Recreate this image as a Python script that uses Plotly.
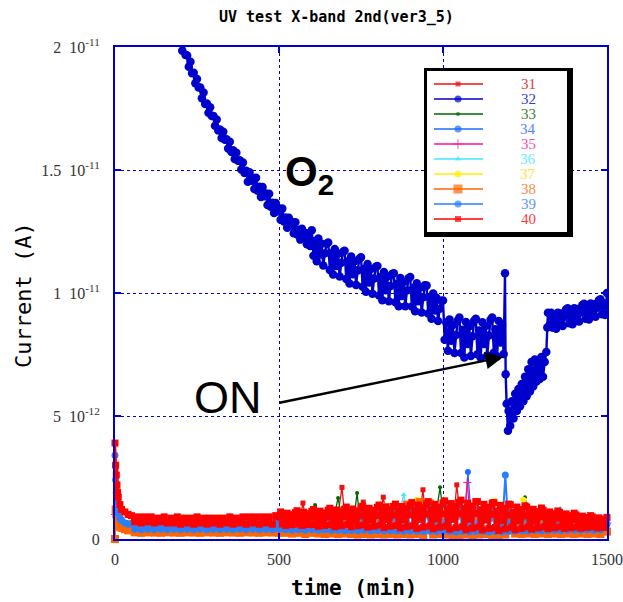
import plotly.graph_objects as go

PA = 1e-12  # all series values below are in pA

NAMES = ["31", "32", "33", "34", "35", "36", "37", "38", "39", "40"]
LINE_COLORS = ["#ee1111", "#0000cc", "#006600", "#1e6eff", "#ff1493",
               "#40e8ff", "#ffee00", "#ff6600", "#2a7fff", "#ff0000"]
TEXT_COLORS = ["#e03a3a", "#3a3acc", "#3d7a3d", "#4f86ff", "#ff4aa0",
               "#66eeff", "#f5e53a", "#ff8a4a", "#5a98ff", "#ff3a3a"]
SYMBOLS = ["square", "circle", "circle", "circle", "cross-thin",
           "triangle-up", "circle", "square", "circle", "square"]
MSIZES = [5, 8.5, 4, 6, 6, 5, 6, 8, 7, 7]
LWIDTHS = [1.3, 2.4, 1.3, 1.3, 1.3, 1.3, 1.3, 1.8, 2.0, 2.2]
LEG_MSIZES = [5, 7, 4, 7, 7, 6, 7, 9, 7, 6]

# ---- series 32 (O2) ----
T32 = list(range(190, 600, 5)) + list(range(600, 1186, 5)) + [1189, 1191, 1194, 1198] + \
    list(range(1200, 1316, 5)) + [1318, 1320, 1325] + list(range(1330, 1501, 5))
V32 = [20.75, 20.26, 20.25, 19.85, 20.05, 19.68, 19.65, 19.20, 19.40, 18.93,  # 190-235
       18.95, 18.53, 18.70, 18.35, 18.35, 17.92, 18.15, 17.68, 17.70, 17.33,  # 240-285
       17.55, 17.20, 17.20, 16.80, 17.05, 16.61, 16.65, 16.30, 16.55, 16.23,  # 290-335
       16.25, 15.87, 16.15, 15.73, 15.80, 15.45, 15.70, 15.38, 15.40, 15.02,  # 340-385
       15.30, 14.88, 14.97, 14.52, 14.91, 14.56, 14.69, 14.23, 14.68, 14.16,  # 390-435
       14.32, 13.90, 14.31, 13.93, 14.04, 13.58, 14.03, 13.51, 13.67, 13.25,  # 440-485
       13.66, 13.31, 13.44, 12.98, 13.43, 12.91, 13.07, 12.65, 13.06, 12.73,  # 490-535
       12.89, 12.43, 12.88, 12.38, 12.57, 12.17, 12.61, 12.28, 12.44, 11.98,  # 540-585
       12.43, 11.91,                                                          # 590-595
       12.55, 11.51, 12.11, 11.29, 12.22, 11.56, 12.00, 11.12, 11.62, 12.00,  # 600-645
       12.05, 10.94, 11.62, 10.75, 11.79, 11.10, 11.60, 10.67, 11.23, 11.68,  # 650-695
       11.72, 10.57, 11.29, 10.39, 11.48, 10.76, 11.29, 10.33, 10.92, 11.39,  # 700-745
       11.45, 10.25, 10.99, 10.05, 11.18, 10.43, 10.98, 9.97, 10.59, 11.07,   # 750-795
       11.10, 9.90, 10.65, 9.71, 10.85, 10.11, 10.66, 9.66, 10.28, 10.77,     # 800-845
       10.80, 9.62, 10.38, 9.46, 10.61, 9.88, 10.45, 9.46, 10.10, 10.60,      # 850-895
       10.65, 9.45, 10.20, 9.26, 10.40, 9.66, 10.21, 9.21, 9.83, 10.32,       # 900-945
       10.30, 9.17, 9.84, 8.95, 9.98, 9.29, 9.81, 8.86, 9.36, 9.69,           # 950-995
       9.70, 8.10, 8.80, 7.65, 8.92, 8.06, 8.70, 7.56, 8.29, 8.88,            # 1000-1045
       9.00, 7.56, 8.51, 7.38, 8.82, 7.93, 8.65, 7.44, 8.24, 8.87,            # 1050-1095
       8.95, 7.51, 8.48, 7.36, 8.81, 7.93, 8.66, 7.46, 8.27, 8.91,            # 1100-1145
       9.00, 7.57, 8.53, 7.42, 8.86, 7.99, 8.71, 7.52,                        # 1150-1185
       10.8, 6.7, 5.5, 4.4,                                                   # 1189-1198
       5.2, 4.6, 5.6, 4.9, 5.9, 5.2, 6.1, 5.4, 6.3, 5.6,                      # 1200-1245
       6.6, 5.8, 6.9, 6.0, 7.2, 6.2, 7.3, 6.4, 7.1, 6.5,                      # 1250-1295
       7.4, 6.6, 7.2, 7.6,                                                    # 1300-1315
       8.6, 9.2, 8.7,                                                         # 1318-1325
       9.20, 8.59, 9.03, 8.55, 9.20, 8.84, 9.17, 8.66, 9.03, 9.33,            # 1330-1375
       9.38, 8.77, 9.20, 8.73, 9.38, 9.02, 9.35, 8.84, 9.21, 9.51,            # 1380-1425
       9.56, 8.95, 9.39, 8.92, 9.57, 9.20, 9.54, 9.03, 9.40, 9.70,            # 1430-1475
       9.75, 9.14, 9.58, 9.11, 10.0]                                          # 1480-1500

# ---- dense bottom series ----
T_EARLY = [0, 2, 4, 6, 8, 10, 15, 20, 30, 40]
T_C = T_EARLY + list(range(50, 1501, 10))
T40 = T_EARLY + list(range(50, 500, 10)) + list(range(500, 1501, 5))
V40 = [3.9, 3.0, 2.6, 2.2, 1.9, 1.7, 1.4, 1.2, 1.1, 1.0,
       0.95, 0.70, 0.90, 0.65, 0.90, 0.70, 0.90, 0.65, 0.85, 0.70,     # 50-140
       0.90, 0.65, 0.85, 0.65, 0.90, 0.60, 0.85, 0.65, 0.85, 0.60,     # 150-240
       0.90, 0.65, 0.85, 0.60, 0.85, 0.65, 0.85, 0.60, 0.85, 0.65,     # 250-340
       0.90, 0.60, 0.85, 0.65, 0.90, 0.60, 0.90, 0.65, 0.90, 0.60,     # 350-440
       0.90, 0.65, 0.90, 0.60, 0.95,                                   # 450-490
       0.90,                                                           # 500
       1.10, 0.61, 0.94, 0.55, 1.05, 0.74, 0.99, 0.58, 0.85, 1.07,     # 505-550
       1.15, 0.61, 0.97, 0.55, 1.09, 0.76, 1.03, 0.58, 0.88, 1.12,     # 555-600
       1.20, 0.59, 1.00, 0.52, 1.13, 0.76, 1.06, 0.55, 0.89, 1.17,     # 605-650
       1.25, 0.58, 1.03, 0.50, 1.18, 0.76, 1.10, 0.54, 0.91, 1.21,     # 655-700
       1.30, 0.58, 1.06, 0.50, 1.22, 0.78, 1.14, 0.54, 0.94, 1.26,     # 705-750
       1.33, 0.57, 1.08, 0.48, 1.25, 0.78, 1.16, 0.52, 0.95, 1.29,     # 755-800
       1.38, 0.56, 1.11, 0.47, 1.29, 0.79, 1.20, 0.52, 0.97, 1.33,     # 805-850
       1.42, 0.55, 1.13, 0.45, 1.32, 0.79, 1.23, 0.50, 0.98, 1.37,     # 855-900
       1.48, 0.54, 1.17, 0.43, 1.38, 0.80, 1.27, 0.48, 1.01, 1.43,     # 905-950
       1.52, 0.53, 1.19, 0.42, 1.41, 0.81, 1.30, 0.48, 1.03, 1.47,     # 955-1000
       1.55, 0.52, 1.21, 0.40, 1.44, 0.80, 1.32, 0.46, 1.03, 1.49,     # 1005-1050
       1.58, 0.50, 1.22, 0.38, 1.46, 0.80, 1.34, 0.44, 1.04, 1.52,     # 1055-1100
       1.52, 0.49, 1.18, 0.37, 1.41, 0.77, 1.29, 0.43, 1.00, 1.46,     # 1105-1150
       1.48, 0.46, 1.14, 0.35, 1.37, 0.75, 1.25, 0.41, 0.97, 1.42,     # 1155-1200
       1.40, 0.48, 1.09, 0.38, 1.30, 0.74, 1.20, 0.43, 0.94, 1.35,     # 1205-1250
       1.30, 0.49, 1.03, 0.40, 1.21, 0.72, 1.12, 0.45, 0.90, 1.26,     # 1255-1300
       1.18, 0.50, 0.95, 0.42, 1.10, 0.69, 1.03, 0.46, 0.84, 1.14,     # 1305-1350
       1.08, 0.50, 0.89, 0.43, 1.02, 0.66, 0.95, 0.46, 0.79, 1.05,     # 1355-1400
       0.98, 0.49, 0.82, 0.44, 0.93, 0.63, 0.87, 0.47, 0.74, 0.95,     # 1405-1450
       0.90, 0.50, 0.77, 0.45, 0.86, 0.61, 0.81, 0.47, 0.70, 0.88]     # 1455-1500
V39 = [3.4, 2.4, 1.9, 1.5, 1.25, 1.05, 0.85, 0.75, 0.65, 0.60,
       0.62, 0.40, 0.60, 0.38, 0.60, 0.40, 0.58, 0.38, 0.60, 0.40,
       0.58, 0.38, 0.60, 0.40, 0.58, 0.38, 0.60, 0.40, 0.58, 0.38,
       0.60, 0.40, 0.58, 0.38, 0.60, 0.40, 0.58, 0.38, 0.60, 0.40,
       0.58, 0.38, 0.60, 0.40, 0.58, 0.38, 0.60, 0.40, 0.62, 0.38,
       0.62, 0.40, 0.62, 0.38, 0.64, 0.40,
       0.70, 0.38, 0.75, 0.36, 0.80, 0.38, 0.85, 0.36, 0.80, 0.38,
       0.90, 0.36, 0.85, 0.38, 0.95, 0.35, 0.90, 0.36, 1.00, 0.34,
       1.00, 0.35, 1.05, 0.34, 1.00, 0.36, 1.10, 0.34, 1.05, 0.35,
       1.10, 0.33, 1.15, 0.34, 1.10, 0.33, 1.20, 0.32, 1.15, 0.33,
       1.20, 0.32, 1.25, 0.30, 1.20, 0.32, 1.30, 0.30, 1.25, 0.32,
       1.30, 0.30, 1.25, 0.28, 1.35, 0.30, 1.30, 0.28, 1.25, 0.30,
       1.20, 0.30, 1.25, 0.28, 1.20, 0.30, 1.15, 0.28, 2.60, 0.30,
       1.10, 0.32, 1.05, 0.34, 1.00, 0.33, 1.00, 0.35, 0.95, 0.34,
       0.90, 0.35, 0.90, 0.36, 0.85, 0.35, 0.85, 0.36, 0.80, 0.37,
       0.80, 0.36, 0.75, 0.37, 0.75, 0.36, 0.70, 0.37, 0.70, 0.60]
V38 = [0.0, 1.2, 1.0, 0.85, 0.7, 0.6, 0.5, 0.45, 0.4, 0.35,
       0.40, 0.27, 0.42, 0.25, 0.40, 0.27, 0.40, 0.26, 0.42, 0.25,
       0.40, 0.27, 0.40, 0.26, 0.42, 0.25, 0.40, 0.27, 0.40, 0.26,
       0.42, 0.25, 0.40, 0.27, 0.40, 0.26, 0.42, 0.25, 0.40, 0.27,
       0.40, 0.26, 0.42, 0.25, 0.40, 0.27, 0.40, 0.26, 0.42, 0.25,
       0.40, 0.27, 0.40, 0.26, 0.42, 0.25,
       0.50, 0.25, 0.55, 0.22, 0.60, 0.25, 0.55, 0.20, 0.65, 0.25,
       0.60, 0.22, 0.70, 0.20, 0.65, 0.22, 0.75, 0.20, 0.70, 0.22,
       0.80, 0.20, 0.75, 0.18, 0.85, 0.20, 0.80, 0.18, 0.90, 0.20,
       0.85, 0.18, 1.30, 0.20, 0.90, 0.18, 1.00, 0.20, 1.40, 0.18,
       1.00, 0.20, 1.50, 0.16, 1.10, 1.45, 0.18, 1.00, 0.20, 0.95,
       0.18, 1.00, 0.16, 0.95, 0.15, 1.00, 0.18, 0.90, 0.15, 0.95,
       0.18, 0.90, 0.20, 0.85, 0.16, 0.90, 0.15, 0.85, 0.18, 0.80,
       0.70, 0.22, 0.75, 0.20, 0.70, 0.22, 0.65, 0.20, 0.65, 0.22,
       0.60, 0.20, 0.60, 0.22, 0.55, 0.20, 0.55, 0.22, 0.50, 0.20,
       0.50, 0.22, 0.48, 0.20, 0.46, 0.22, 0.45, 0.20, 0.44, 0.30]

# ---- sparse bottom series (mostly hidden, visible spikes) ----
T31 = [0, 3, 6, 10, 20, 40, 100, 200, 300, 400, 500, 565, 573, 580, 680, 692, 700,
       750, 757, 765, 810, 818, 825, 930, 939, 945, 1035, 1042, 1050, 1200, 1300, 1400, 1500]
V31 = [0.0, 2.8, 2.0, 1.6, 1.2, 0.95, 0.8, 0.75, 0.75, 0.78, 0.8, 0.9, 1.46, 0.9, 1.0, 2.1, 1.0,
       1.0, 1.5, 1.0, 1.1, 1.7, 1.1, 1.1, 2.0, 1.1, 1.2, 2.2, 1.2, 1.1, 1.0, 0.8, 0.7]
T33 = [0, 5, 20, 50, 200, 400, 600, 610, 620, 670, 680, 690, 730, 738, 745,
       980, 991, 1000, 1240, 1250, 1260, 1500]
V33 = [1.2, 0.9, 0.8, 0.7, 0.65, 0.7, 0.9, 1.38, 0.9, 1.0, 1.67, 1.0, 1.0, 1.87, 1.0,
       1.1, 2.1, 1.1, 1.0, 1.7, 1.0, 0.7]
T34 = [0, 5, 20, 50, 200, 400, 600, 800, 1000, 1068, 1076, 1084, 1150, 1300, 1500]
V34 = [3.0, 1.5, 0.8, 0.6, 0.55, 0.6, 0.8, 1.0, 1.1, 1.2, 2.72, 1.2, 1.1, 0.8, 0.6]
T35 = [0, 10, 50, 300, 600, 900, 1068, 1074, 1080, 1200, 1500]
V35 = [1.0, 0.8, 0.65, 0.7, 0.9, 1.2, 1.3, 2.3, 1.3, 1.2, 0.65]
T36 = [0, 10, 50, 300, 520, 620, 628, 636, 870, 880, 890, 1000, 1350, 1357, 1364, 1500]
V36 = [1.1, 0.8, 0.65, 0.65, 0.85, 0.95, 1.2, 0.95, 1.2, 1.8, 1.2, 1.2, 0.9, 1.25, 0.9, 0.6]
T37 = [0, 5, 10, 20, 30, 50, 100, 300, 500, 600, 700, 800, 912, 920, 928, 1000, 1100,
       1150, 1158, 1166, 1238, 1245, 1252, 1400, 1500]
V37 = [1.3, 0.8, 0.6, 0.45, 0.38, 0.32, 0.3, 0.3, 0.32, 0.5, 0.7, 0.9, 1.0, 1.6, 1.0, 1.1, 1.1,
       1.1, 1.55, 1.1, 1.0, 1.6, 1.0, 0.7, 0.5]

SERIES = [(T31, V31), (T32, V32), (T33, V33), (T34, V34), (T35, V35),
          (T36, V36), (T37, V37), (T_C, V38), (T_C, V39), (T40, V40)]

Y_TICKS = [0, 5e-12, 1e-11, 1.5e-11, 2e-11]
Y_TICKTEXT = ["0", "5  10<sup>-12</sup>", "1  10<sup>-11</sup>",
              "1.5  10<sup>-11</sup>", "2  10<sup>-11</sup>"]
X_TICKS = [0, 500, 1000, 1500]

# plot area in pixels
L, T, W, H = 115, 47, 492, 492
def px_x(p):
    return (p - L) / W
def px_y(p):
    return (T + H - p) / H

AXC = "#0000cc"
fig = go.Figure()

for i, (name, (tt, vv)) in enumerate(zip(NAMES, SERIES)):
    assert len(tt) == len(vv), (name, len(tt), len(vv))
    fig.add_trace(go.Scatter(
        x=tt, y=[v * PA for v in vv], name=name, mode="lines+markers",
        line=dict(color=LINE_COLORS[i], width=LWIDTHS[i]),
        marker=dict(symbol=SYMBOLS[i], size=MSIZES[i], color=LINE_COLORS[i],
                    line=dict(width=1 if SYMBOLS[i] == "cross-thin" else 0, color=LINE_COLORS[i])),
        cliponaxis=(name == "32"), showlegend=False, hoverinfo="skip"))

# ---- legend box drawn on overlay axes in paper units ----
def rect(x0, y0, x1, y1, color):
    return go.Scatter(x=[px_x(x0), px_x(x1), px_x(x1), px_x(x0), px_x(x0)],
                      y=[px_y(y0), px_y(y0), px_y(y1), px_y(y1), px_y(y0)],
                      mode="lines", fill="toself", fillcolor=color,
                      line=dict(width=0, color=color), xaxis="x2", yaxis="y2",
                      showlegend=False, hoverinfo="skip")

fig.add_trace(rect(424, 68, 573, 237, "black"))
fig.add_trace(rect(427, 71, 567, 232, "white"))
for i, name in enumerate(NAMES):
    yy = px_y(84 + 15 * i)
    fig.add_trace(go.Scatter(
        x=[px_x(434), px_x(458), px_x(483)], y=[yy, yy, yy], mode="lines+markers",
        line=dict(color=LINE_COLORS[i], width=1.5),
        marker=dict(symbol=SYMBOLS[i], size=[0, LEG_MSIZES[i], 0], color=LINE_COLORS[i],
                    line=dict(width=1 if SYMBOLS[i] == "cross-thin" else 0, color=LINE_COLORS[i])),
        xaxis="x2", yaxis="y2", showlegend=False, hoverinfo="skip"))
    fig.add_annotation(x=px_x(528), y=yy, xref="paper", yref="paper", text=name,
                       showarrow=False, xanchor="center", yanchor="middle",
                       font=dict(family="Liberation Serif", size=15, color=TEXT_COLORS[i]))

# ---- text labels ----
fig.add_annotation(x=px_x(283), y=px_y(174), xref="paper", yref="paper",
                   text="<b>O<sub>2</sub></b>", showarrow=False, xanchor="left", yanchor="middle",
                   font=dict(family="Liberation Sans", size=42, color="black"))
fig.add_annotation(x=px_x(192), y=px_y(397), xref="paper", yref="paper",
                   text="ON", showarrow=False, xanchor="left", yanchor="middle",
                   font=dict(family="Liberation Sans", size=45, color="black"))
fig.add_annotation(x=1183, y=7.4e-12, xref="x", yref="y", text="", showarrow=True,
                   ax=-225, ay=46, axref="pixel", ayref="pixel",
                   arrowhead=2, arrowsize=1.4, arrowwidth=2.5, arrowcolor="black", standoff=0)

# titles
fig.add_annotation(x=px_x(336), y=px_y(17), xref="paper", yref="paper",
                   text="<b>UV test X-band 2nd(ver3_5)</b>", showarrow=False,
                   xanchor="center", yanchor="middle",
                   font=dict(family="DejaVu Sans Mono", size=15, color="black"))
fig.add_annotation(x=px_x(354), y=px_y(588), xref="paper", yref="paper",
                   text="<b>time (min)</b>", showarrow=False, xanchor="center", yanchor="middle",
                   font=dict(family="DejaVu Sans Mono", size=21, color="black"))
fig.add_annotation(x=px_x(23), y=px_y(295), xref="paper", yref="paper",
                   text="Current (A)", showarrow=False, textangle=-90,
                   xanchor="center", yanchor="middle",
                   font=dict(family="DejaVu Sans Mono", size=22, color="black"))

fig.update_layout(
    width=623, height=602, margin=dict(l=L, r=623 - L - W, t=T, b=602 - T - H, autoexpand=False),
    paper_bgcolor="white", plot_bgcolor="white", showlegend=False,
    xaxis=dict(range=[0, 1500], tickvals=X_TICKS, ticks="inside", ticklen=6,
               tickcolor=AXC, tickwidth=1.5, showline=True, linecolor=AXC, linewidth=2,
               mirror="ticks", showgrid=True, gridcolor=AXC, griddash="dot", gridwidth=1,
               zeroline=False, ticklabelstandoff=5, automargin=False,
               tickfont=dict(family="Liberation Serif", size=16, color="#333333")),
    yaxis=dict(range=[0, 2e-11], tickvals=Y_TICKS, ticktext=Y_TICKTEXT, ticks="inside",
               ticklen=6, tickcolor=AXC, tickwidth=1.5, showline=True, linecolor=AXC,
               linewidth=2, mirror="ticks", showgrid=True, gridcolor=AXC, griddash="dot",
               gridwidth=1, zeroline=False, ticklabelstandoff=10, automargin=False,
               tickfont=dict(family="Liberation Serif", size=16, color="#333333")),
    xaxis2=dict(overlaying="x", range=[0, 1], visible=False, fixedrange=True, automargin=False),
    yaxis2=dict(overlaying="y", range=[0, 1], visible=False, fixedrange=True, automargin=False),
)

fig.write_html("out.html", config={"displayModeBar": False},
               post_script="document.body.style.margin='0px';document.body.style.overflow='hidden';")
